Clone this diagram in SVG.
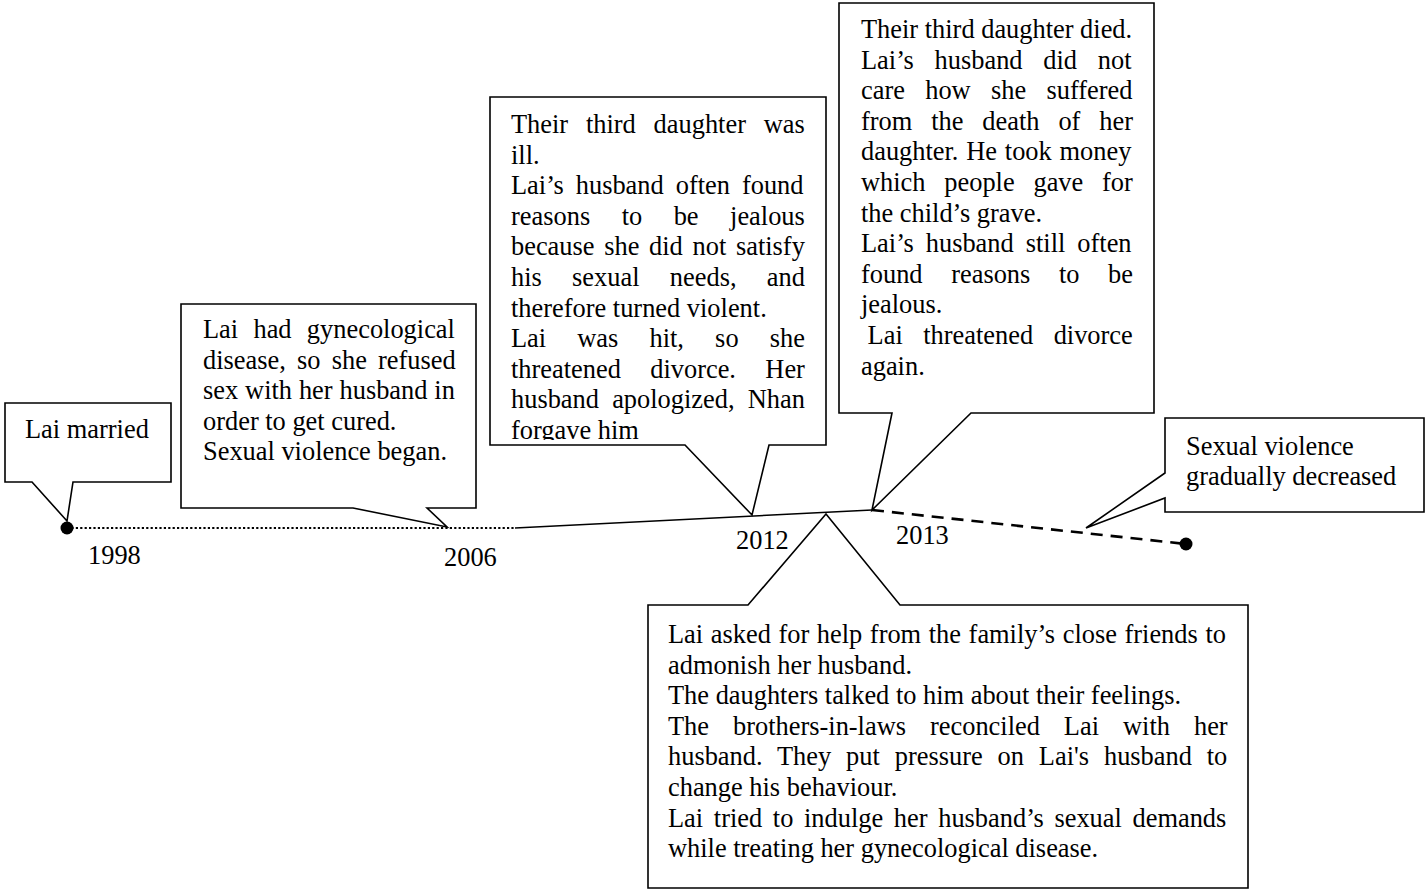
<svg xmlns="http://www.w3.org/2000/svg" width="1425" height="890" viewBox="0 0 1425 890">
<style>
.bx{fill:#fff;stroke:#000;stroke-width:1.6;stroke-linejoin:miter}
.t{font-family:"Liberation Serif","Times New Roman",serif;font-size:26.4px;fill:#000}
.tl{fill:none;stroke:#000}
</style>
<defs>
<clipPath id="clip2012"><rect x="491" y="98" width="334" height="342"/></clipPath>
</defs>
<rect width="1425" height="890" fill="#fff"/>
<g id="connectors">
<line class="tl" x1="67" y1="528" x2="515" y2="528" stroke-width="2.2" stroke-dasharray="2.2 2.2"/>
<line class="tl" x1="515" y1="528" x2="872" y2="510" stroke-width="1.6"/>
<line class="tl" x1="872" y1="510" x2="1186" y2="544" stroke-width="2.6" stroke-dasharray="12 8"/>
<circle cx="67" cy="528" r="6.5" fill="#000"/>
<circle cx="1186" cy="544" r="6.5" fill="#000"/>
</g>
<g id="years">
<text class="t" x="88" y="564">1998</text>
<text class="t" x="444" y="566">2006</text>
<text class="t" x="736" y="549">2012</text>
<text class="t" x="896" y="544">2013</text>
</g>
<g id="node-married">
<path class="bx" d="M5,403 H171 V482 H73 L67,521 L32,482 H5 Z"/>
<text class="t" x="25" y="438">Lai married</text>
</g>
<g id="node-2006">
<path class="bx" d="M181,304 H476 V508 H427 L447,527 L353,508 H181 Z"/>
<text class="t" x="203" y="338" word-spacing="8.7">Lai had gynecological</text>
<text class="t" x="203" y="368.6" word-spacing="4.6">disease, so she refused</text>
<text class="t" x="203" y="399.2" word-spacing="0.3">sex with her husband in</text>
<text class="t" x="203" y="429.8">order to get cured.</text>
<text class="t" x="203" y="460.4">Sexual violence began.</text>
</g>
<g id="node-2012">
<path class="bx" d="M490,97 H826 V445 H769 L752,515 L685,445 H490 Z"/>
<g clip-path="url(#clip2012)">
<text class="t" x="511" y="133" word-spacing="11.2">Their third daughter was</text>
<text class="t" x="511" y="163.6">ill.</text>
<text class="t" x="511" y="194.2" word-spacing="5.4">Lai’s husband often found</text>
<text class="t" x="511" y="224.8" word-spacing="24.9">reasons to be jealous</text>
<text class="t" x="511" y="255.4" word-spacing="3.1">because she did not satisfy</text>
<text class="t" x="511" y="286" word-spacing="23.7">his sexual needs, and</text>
<text class="t" x="511" y="316.6">therefore turned violent.</text>
<text class="t" x="511" y="347.2" word-spacing="24.55">Lai was hit, so she</text>
<text class="t" x="511" y="377.8" word-spacing="22.75">threatened divorce. Her</text>
<text class="t" x="511" y="408.4" word-spacing="6.6">husband apologized, Nhan</text>
<text class="t" x="511" y="439">forgave him</text>
</g>
</g>
<g id="node-2013">
<path class="bx" d="M839,3 H1154 V413 H971 L872,510 L892,413 H839 Z"/>
<text class="t" x="861" y="38">Their third daughter died.</text>
<text class="t" x="861" y="68.6" word-spacing="14.2">Lai’s husband did not</text>
<text class="t" x="861" y="99.2" word-spacing="13.7">care how she suffered</text>
<text class="t" x="861" y="129.8" word-spacing="12.3">from the death of her</text>
<text class="t" x="861" y="160.4" word-spacing="1.2">daughter. He took money</text>
<text class="t" x="861" y="191" word-spacing="12.2">which people gave for</text>
<text class="t" x="861" y="221.6">the child’s grave.</text>
<text class="t" x="861" y="252.2" word-spacing="5.4">Lai’s husband still often</text>
<text class="t" x="861" y="282.8" word-spacing="22">found reasons to be</text>
<text class="t" x="861" y="313.4">jealous.</text>
<text class="t" x="867.6" y="344" word-spacing="13.9">Lai threatened divorce</text>
<text class="t" x="861" y="374.6">again.</text>
</g>
<g id="node-help">
<path class="bx" d="M648,605 H748 L826,514 L900,605 H1248 V888 H648 Z"/>
<text class="t" x="668" y="643" word-spacing="1.0">Lai asked for help from the family’s close friends to</text>
<text class="t" x="668" y="673.6">admonish her husband.</text>
<text class="t" x="668" y="704.2">The daughters talked to him about their feelings.</text>
<text class="t" x="668" y="734.8" word-spacing="17.4">The brothers-in-laws reconciled Lai with her</text>
<text class="t" x="668" y="765.4" word-spacing="8.3">husband. They put pressure on Lai's husband to</text>
<text class="t" x="668" y="796">change his behaviour.</text>
<text class="t" x="668" y="826.6" word-spacing="4.06">Lai tried to indulge her husband’s sexual demands</text>
<text class="t" x="668" y="857.2">while treating her gynecological disease.</text>
</g>
<g id="node-decreased">
<path class="bx" d="M1165,418 H1424 V512 H1165 V498 L1086,528 L1165,473 Z"/>
<text class="t" x="1186" y="455">Sexual violence</text>
<text class="t" x="1186" y="485">gradually decreased</text>
</g>
</svg>
